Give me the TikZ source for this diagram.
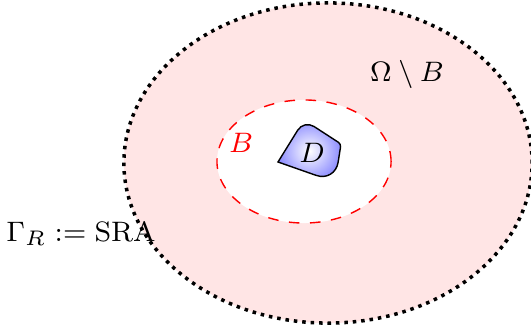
\documentclass[tikz,border=0pt]{standalone}
\usepackage{amsmath}
\usepackage{amssymb}
\usepackage{tikz}
\usetikzlibrary{positioning}

\begin{document}
\begin{tikzpicture}[x=0.01cm, y=-0.01cm, font=\footnotesize,
		outerbd/.style={line width=1pt, dash pattern=on 1pt off 1.4pt},
		innerbd/.style={red, dashed, fill=white},
		obstacle/.style={draw=black, inner color=white, outer color=blue!45}]
		\useasboundingbox (0,0) rectangle (531,331);
		\clip (0,0) rectangle (531,331);
		% region between the two boundaries
		\fill[red!10] (328,163) ellipse [x radius=2.04cm, y radius=1.6cm];
		\draw[outerbd] (328,163) ellipse [x radius=2.04cm, y radius=1.6cm];
		\filldraw[innerbd] (304,161.5) ellipse [x radius=0.87cm, y radius=0.615cm];
		% the obstacle
		\shade[obstacle, rounded corners=0.12cm] (278,162) -- (304,120)
			[rounded corners=0.03cm] -- (341,144)
			[rounded corners=0.2cm] -- (335,182)
			[sharp corners] -- cycle;
		\node (d) at (312,153) {$D$};
		\node[red] (b) at (241,143) {$B$};
		\node (omb) at (407,74) {$\Omega \setminus B$};
		\node (gam) at (81,234) {$\Gamma_R := \mathrm{SRA}$};
	\end{tikzpicture}
\end{document}
